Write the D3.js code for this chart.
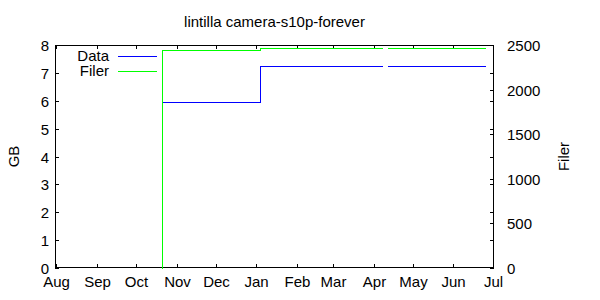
<!DOCTYPE html>
<html>
<head>
<meta charset="utf-8">
<script src="https://cdn.jsdelivr.net/npm/d3@7.9.0/dist/d3.min.js"></script>
<style>
  body { margin: 0; background: #fff; }
  svg text { font-family: "Liberation Sans", Arial, sans-serif; font-size: 15px; fill: #000; }
</style>
</head>
<body>
<div id="chart"></div>
<script>
const title = 'lintilla camera-s10p-forever';
const monthTicks = ['2008-08-01','2008-09-01','2008-10-01','2008-11-01','2008-12-01','2009-01-01',
                    '2009-02-01','2009-03-01','2009-04-01','2009-05-01','2009-06-01','2009-07-01'];
const monthLabels = ['Aug','Sep','Oct','Nov','Dec','Jan','Feb','Mar','Apr','May','Jun','Jul'];
const gbTicks    = [0,1,2,3,4,5,6,7,8];
const filerTicks = [0,500,1000,1500,2000,2500];

// two runs of samples, with a break between them
const sampleDates = [
  ['2008-10-21','2008-10-21','2009-01-04','2009-04-08'],
  ['2009-04-12','2009-06-26']
];
const dataGB = [
  [0, 5.96, 7.25, 7.25],
  [7.25, 7.25]
];
const filer = [
  [0, 2440, 2463, 2463],
  [2463, 2463]
];

const W = 600, H = 300, M = {t:45, r:106, b:32, l:55};
const parse = d3.utcParse('%Y-%m-%d');

const x = d3.scaleUtc()
  .domain([parse('2008-07-31'), parse('2009-07-02')])
  .range([M.l, W - M.r]);
const y = d3.scaleLinear().domain([0, 8]).range([H - M.b, M.t]);
const y2 = d3.scaleLinear().domain([0, 2500]).range([H - M.b, M.t]);

const svg = d3.select('#chart').append('svg')
  .attr('width', W).attr('height', H);

svg.append('text')
  .attr('x', (M.l + W - M.r) / 2).attr('y', 27)
  .attr('text-anchor', 'middle')
  .text(title);

const x0 = M.l, x1 = W - M.r, yTop = M.t, yBot = H - M.b;
const tl = 4;
const axisG = svg.append('g').attr('stroke', '#000').attr('stroke-width', 1)
  .attr('shape-rendering', 'crispEdges');

// series
const line = d3.line()
  .x(d => x(d[0])).y(d => d[1])
  .curve(d3.curveStepAfter);

const seriesG = svg.append('g').attr('fill', 'none').attr('stroke-width', 1)
  .attr('shape-rendering', 'crispEdges');

function drawSeries (vals, scale, color) {
  sampleDates.forEach((run, i) => {
    const pts = run.map((d, j) => [parse(d), Math.round(scale(vals[i][j])) + 0.5]);
    seriesG.append('path').attr('d', line(pts)).attr('stroke', color);
  });
}
drawSeries(dataGB, y, '#0000ff');
drawSeries(filer, y2, '#00ff00');

// ticks
monthTicks.forEach((t, i) => {
  const px = Math.round(x(parse(t))) + 0.5;
  axisG.append('line').attr('x1', px).attr('x2', px).attr('y1', yBot).attr('y2', yBot - tl);
  axisG.append('line').attr('x1', px).attr('x2', px).attr('y1', yTop).attr('y2', yTop + tl);
  svg.append('text').attr('x', px).attr('y', 287).attr('text-anchor', 'middle').text(monthLabels[i]);
});
gbTicks.forEach(v => {
  const py = Math.round(y(v)) + 0.5;
  axisG.append('line').attr('x1', x0).attr('x2', x0 + tl).attr('y1', py).attr('y2', py);
  axisG.append('line').attr('x1', x1).attr('x2', x1 - tl).attr('y1', py).attr('y2', py);
  svg.append('text').attr('x', 49).attr('y', py).attr('dy', '0.36em')
    .attr('text-anchor', 'end').text(v);
});
filerTicks.forEach(v => {
  const py = Math.round(y2(v)) + 0.5;
  axisG.append('line').attr('x1', x1).attr('x2', x1 - tl).attr('y1', py).attr('y2', py);
  svg.append('text').attr('x', 507).attr('y', py).attr('dy', '0.36em').text(v);
});

// frame
axisG.append('rect')
  .attr('x', x0 + 0.5).attr('y', yTop + 0.5)
  .attr('width', x1 - x0 - 1).attr('height', yBot - yTop - 1)
  .attr('fill', 'none');

// axis titles
svg.append('text')
  .attr('transform', `translate(19,${(yTop + yBot) / 2}) rotate(-90)`)
  .attr('text-anchor', 'middle').text('GB');
svg.append('text')
  .attr('transform', `translate(569,${(yTop + yBot) / 2}) rotate(-90)`)
  .attr('text-anchor', 'middle').text('Filer');

// legend
const legend = [['Data', '#0000ff', 56], ['Filer', '#00ff00', 71]];
legend.forEach(([name, color, ly]) => {
  svg.append('text').attr('x', 109).attr('y', ly).attr('dy', '0.36em')
    .attr('text-anchor', 'end').text(name);
  svg.append('line').attr('x1', 118).attr('x2', 157)
    .attr('y1', ly + 0.5).attr('y2', ly + 0.5)
    .attr('stroke', color).attr('stroke-width', 1);
});
</script>
</body>
</html>
